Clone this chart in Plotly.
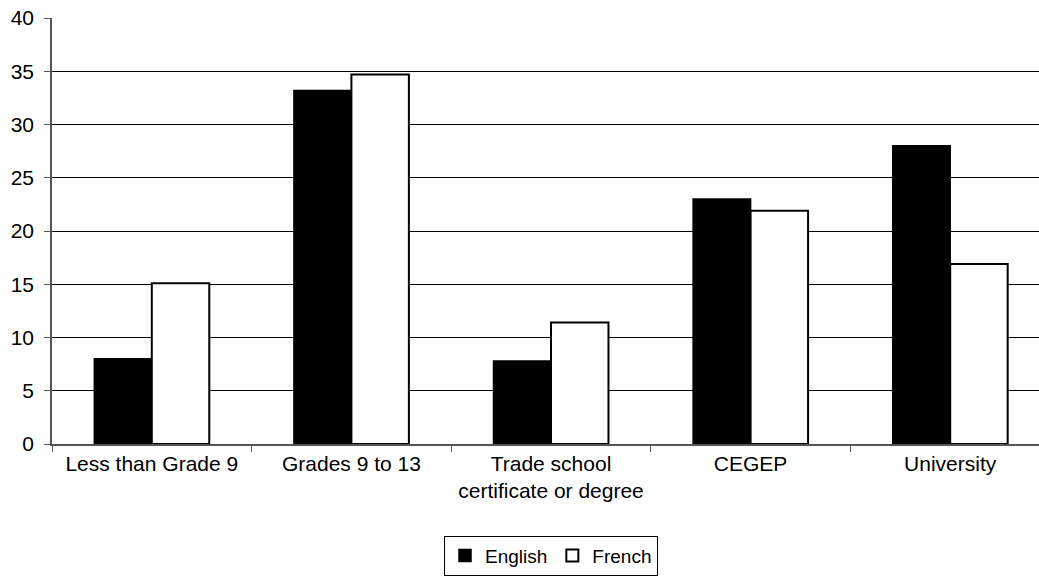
import plotly.graph_objects as go

categories = ["Less than Grade 9", "Grades 9 to 13", "Trade school<br>certificate or degree", "CEGEP", "University"]
english = [8.0, 33.2, 7.8, 23.0, 28.0]
french = [15.1, 34.7, 11.4, 21.9, 16.9]

fig = go.Figure()
fig.add_trace(go.Bar(
    x=categories, y=english, name="English",
    marker=dict(color="black", line=dict(color="black", width=1.5)),
))
fig.add_trace(go.Bar(
    x=categories, y=french, name="French",
    marker=dict(color="white", line=dict(color="black", width=2)),
))

# the original plot area runs a little past the right edge of the window
fig.update_layout(
    width=1051, height=576,
    margin=dict(l=52, r=1, t=18, b=124),
    paper_bgcolor="white", plot_bgcolor="white",
    barmode="group", bargap=0.424, bargroupgap=0,
    font=dict(family="Liberation Sans, Arial, sans-serif", size=21, color="black"),
    showlegend=True,
    legend=dict(
        orientation="h", x=0.5, xanchor="center", y=-0.215, yanchor="top",
        bordercolor="black", borderwidth=1, font=dict(size=19),
        itemwidth=30, tracegroupgap=0,
    ),
    xaxis=dict(
        showline=True, linecolor="#555", linewidth=1.5, automargin=False,
        ticks="outside", tickson="boundaries", ticklen=6, tickcolor="#555",
        showgrid=False, tickfont=dict(size=21),
    ),
    yaxis=dict(
        range=[0, 40], dtick=5, showline=True, linecolor="#555", linewidth=1.5,
        ticks="outside", ticklen=6, tickcolor="#555", automargin=False,
        ticklabelstandoff=6,
        showgrid=True, gridcolor="black", gridwidth=1, zeroline=False,
        tickfont=dict(size=21),
    ),
)

# drop the default page margin and scrollbars so the figure sits at the window's corner
fig.write_html(
    "out.html",
    config={"displayModeBar": False},
    post_script="document.body.style.margin='0';document.body.style.overflow='hidden';",
)
